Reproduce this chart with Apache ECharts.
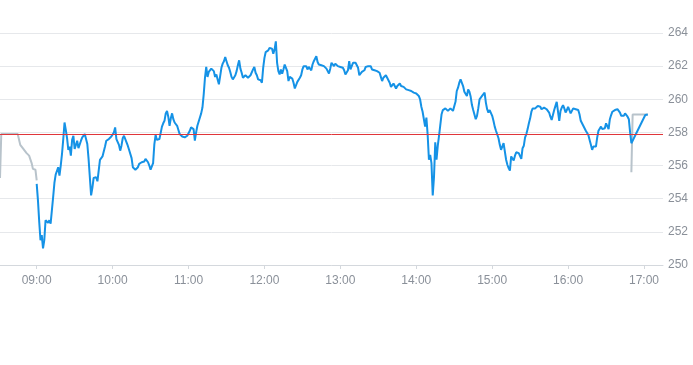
<!DOCTYPE html>
<html>
<head>
<meta charset="utf-8">
<script src="https://cdn.jsdelivr.net/npm/echarts@6/dist/echarts.min.js"></script>
<style>
  html, body { margin: 0; padding: 0; background: #ffffff; }
  #chart { width: 693px; height: 365px; }
</style>
</head>
<body>
<div id="chart"></div>
<script>
// ---- data ----
var DAY = [2024, 0, 2];
var axisStart = "08:31";
var axisEnd = "17:15";
var yTicks = [250, 252, 254, 256, 258, 260, 262, 264];
var refPrice = 257.9;

// main session: one value per minute starting at 09:00
var sessionStart = "09:00";
var sessionValues = [
  254.9, 253.9, 252.6, 251.5, 251.8, 251.0, 251.5, 252.7, 252.8, 252.55,
  252.7, 252.5, 253.3, 254.1, 254.95, 255.45, 255.45, 255.9, 255.4, 256.0,
  256.7, 257.6, 258.6, 258.15, 257.65, 256.95, 257.15, 256.6, 257.55, 257.8,
  257.0, 257.25, 257.5, 257.05, 257.15, 257.5, 257.7, 257.8, 257.9, 257.8,
  257.3, 256.4, 255.3, 254.2, 254.65, 255.25, 255.15, 255.3, 255.05, 255.7,
  256.35, 256.35, 256.55, 256.85, 257.15, 257.5, 257.45, 257.6, 257.65, 257.75,
  257.85, 258.0, 258.3, 257.6, 257.65, 257.25, 256.9, 257.2, 257.65, 257.8,
  257.85, 257.4, 257.2, 256.95, 257.05, 256.45, 255.9, 255.8, 255.75, 255.7,
  255.9, 256.1, 256.15, 256.2, 256.2, 256.25, 256.4, 256.45, 256.2, 256.0,
  255.75, 255.65, 256.15, 257.3, 257.85, 257.55, 257.5, 257.6, 257.55, 258.35,
  258.55, 258.7, 259.15, 259.3, 258.95, 258.4, 258.85, 259.15, 258.8, 258.6,
  258.5, 258.4, 258.15, 257.9, 257.8, 257.75, 257.75, 257.7, 257.75, 257.8,
  257.9, 258.1, 258.3, 258.4, 258.2, 257.5, 258.0, 258.4, 258.5, 258.9,
  259.15, 259.5, 260.3, 261.3, 261.95, 261.35, 261.65, 261.6, 261.85, 261.85,
  261.7, 261.35, 261.5, 261.2, 260.9, 261.4, 261.9, 262.15, 262.3, 262.55,
  262.3, 262.05, 261.9, 261.65, 261.35, 261.2, 261.1, 261.45, 261.7, 262.05,
  262.35, 261.85, 261.6, 261.3, 261.4, 261.45, 261.4, 261.3, 261.35, 261.45,
  261.55, 261.8, 261.95, 261.6, 261.45, 261.2, 261.3, 261.15, 261.0, 261.9,
  262.5, 262.85, 262.8, 262.95, 263.1, 263.1, 263.05, 262.75, 263.0, 263.5,
  262.2, 261.7, 261.5, 261.8, 261.55, 261.8, 262.1, 261.9, 261.7, 261.1,
  261.35, 261.3, 261.25, 261.0, 260.65, 260.55, 261.05, 261.15, 261.3, 261.45,
  261.8, 262.0, 261.9, 262.0, 261.8, 261.95, 261.85, 261.75, 262.1, 262.3,
  262.45, 262.6, 262.25, 262.1, 262.2, 262.05, 262.05, 262.0, 262.05, 261.85,
  261.7, 261.55, 261.85, 262.2, 262.1, 262.0, 262.15, 262.1, 262.0, 261.9,
  261.95, 261.95, 261.9, 261.75, 261.5, 261.45, 261.75, 262.3, 261.8, 261.9,
  262.2, 262.15, 262.2, 262.15, 261.9, 261.45, 261.55, 261.65, 261.75, 261.75,
  261.95, 261.9, 262.0, 262.1, 262.0, 261.8, 261.75, 261.75, 261.75, 261.7,
  261.6, 261.6, 261.35, 261.1, 261.3, 261.2, 261.45, 261.3, 261.15, 261.0,
  260.75, 260.65, 260.95, 260.95, 260.65, 260.8, 260.75, 260.95, 260.8, 260.75,
  260.75, 260.65, 260.6, 260.55, 260.55, 260.5, 260.5, 260.45, 260.4, 260.4,
  260.35, 260.3, 260.2, 260.0, 259.55, 259.25, 259.25, 258.35, 258.9, 257.85,
  256.35, 256.65, 256.15, 254.2, 255.3, 257.4, 256.35, 257.2, 257.8, 258.45,
  259.1, 259.35, 259.4, 259.45, 259.35, 259.3, 259.35, 259.45, 259.35, 259.3,
  259.35, 259.85, 260.5, 260.7, 261.0, 261.2, 261.1, 260.8, 260.45, 260.55,
  260.2, 260.6, 260.45, 260.15, 259.65, 259.35, 259.3, 258.8, 259.0, 259.45,
  260.0, 260.1, 260.2, 260.3, 260.4, 259.8, 259.4, 259.2, 259.35, 259.3,
  259.0, 258.7, 258.35, 258.1, 258.05, 257.65, 257.25, 256.95, 257.0, 257.35,
  257.45, 256.35, 256.05, 255.85, 255.7, 256.55, 256.5, 256.3, 256.6, 256.8,
  256.7, 256.75, 256.65, 256.4, 257.05, 257.2, 257.7, 257.9, 258.2, 258.55,
  258.85, 259.25, 259.45, 259.5, 259.45, 259.45, 259.6, 259.7, 259.55, 259.4,
  259.4, 259.5, 259.45, 259.4, 259.35, 259.2, 258.95, 258.75, 258.85, 259.35,
  259.6, 259.85, 259.75, 258.7, 259.3, 259.5, 259.65, 259.45, 259.2, 259.35,
  259.55, 259.45, 259.15, 259.25, 259.45, 259.5, 259.4, 259.4, 259.35, 259.1,
  258.7, 258.55, 258.4, 258.35, 258.1, 258.05, 257.85, 257.55, 257.25, 256.95,
  257.15, 257.25, 257.15, 257.7, 258.1, 258.2, 258.35, 258.2, 258.15, 258.25,
  258.55, 258.65, 258.2, 258.8, 259.05, 259.25, 259.35, 259.35, 259.4, 259.4,
  259.35, 259.2, 259.0, 259.05, 259.0, 259.15, 259.1, 258.95, 258.8, 258.0,
  257.35
];
// last sparse points of the session
var sessionTailTimes = ["17:01", "17:03"];
var sessionTailValues = [259.05, 259.08];

// pre-market (grey)
var preTimes = ["08:31", "08:32", "08:45", "08:47", "08:49", "08:50", "08:52", "08:54", "08:56", "08:57", "08:59", "09:00"];
var preValues = [255.25, 257.9, 257.9, 257.25, 257.05, 257.0, 256.75, 256.6, 256.15, 255.8, 255.75, 255.1];

// post-market (grey)
var postTimes = ["16:50", "16:51", "17:03"];
var postValues = [255.6, 259.08, 259.08];

// ---- build ----
function ts(hhmm) {
  var p = hhmm.split(":");
  return new Date(DAY[0], DAY[1], DAY[2], +p[0], +p[1]).getTime();
}
var startTs = ts(sessionStart);
var sessionData = sessionValues.map(function (v, i) { return [startTs + i * 60000, v]; });
sessionTailTimes.forEach(function (t, i) { sessionData.push([ts(t), sessionTailValues[i]]); });
var preData = preTimes.map(function (t, i) { return [ts(t), preValues[i]]; });
var postData = postTimes.map(function (t, i) { return [ts(t), postValues[i]]; });

var labelColor = "#8a9099";
var chart = echarts.init(document.getElementById("chart"), null, { renderer: "canvas" });
chart.setOption({
  animation: false,
  backgroundColor: "#ffffff",
  grid: { left: 0, right: 30, top: 33, bottom: 100, containLabel: false },
  xAxis: {
    type: "time",
    min: ts(axisStart),
    max: ts(axisEnd),
    minInterval: 3600000,
    maxInterval: 3600000,
    splitNumber: 9,
    axisLine: { lineStyle: { color: "#d4d8dd", width: 1 } },
    axisTick: { show: true, length: 4, lineStyle: { color: "#d4d8dd" } },
    splitLine: { show: false },
    axisLabel: {
      color: labelColor,
      fontFamily: "Liberation Sans, Arial, sans-serif",
      fontSize: 12,
      margin: 10,
      hideOverlap: false,
      showMinLabel: false,
      showMaxLabel: false,
      formatter: function (val) {
        var d = new Date(val);
        var h = d.getHours(), m = d.getMinutes();
        return (h < 10 ? "0" : "") + h + ":" + (m < 10 ? "0" : "") + m;
      }
    }
  },
  yAxis: {
    type: "value",
    position: "right",
    min: yTicks[0],
    max: yTicks[yTicks.length - 1],
    interval: yTicks[1] - yTicks[0],
    axisLine: { show: false },
    axisTick: { show: false },
    splitLine: { lineStyle: { color: "#e6e8eb", width: 1 } },
    axisLabel: {
      color: labelColor,
      fontFamily: "Liberation Sans, Arial, sans-serif",
      fontSize: 12,
      margin: 5
    }
  },
  series: [
    {
      type: "line",
      data: [],
      z: 1,
      silent: true,
      markLine: {
        silent: true,
        symbol: ["none", "none"],
        label: { show: false },
        lineStyle: { color: "#e0363a", width: 1, type: "solid" },
        data: [{ yAxis: refPrice }]
      }
    },
    {
      type: "line",
      data: preData,
      z: 2,
      showSymbol: false,
      symbol: "none",
      smooth: false,
      lineStyle: { color: "#b8c3cb", width: 2 }
    },
    {
      type: "line",
      data: postData,
      z: 2,
      showSymbol: false,
      symbol: "none",
      smooth: false,
      lineStyle: { color: "#b8c3cb", width: 2 }
    },
    {
      type: "line",
      data: sessionData,
      z: 3,
      showSymbol: false,
      symbol: "none",
      smooth: false,
      lineStyle: { color: "#1592e6", width: 2 }
    }
  ]
});
</script>
</body>
</html>
